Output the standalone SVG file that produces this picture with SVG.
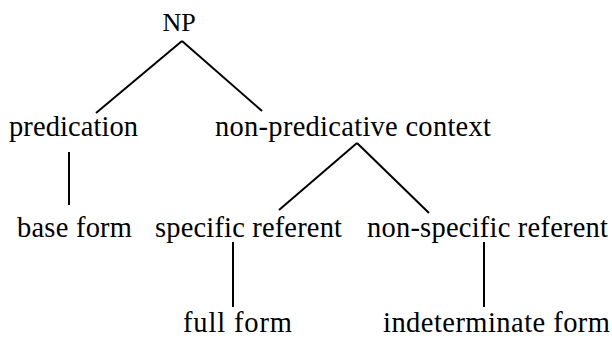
<svg xmlns="http://www.w3.org/2000/svg" width="612" height="339" viewBox="0 0 612 339">
<style>
text{font-family:"Liberation Serif","Times New Roman",serif;font-size:28.5px;fill:#000}
.e{stroke:#000;stroke-width:2;fill:none;stroke-linecap:butt}
</style>
<rect width="612" height="339" fill="#fff"/>
<g id="connectors">
<line class="e" x1="182" y1="41" x2="96" y2="113"/>
<line class="e" x1="182" y1="41" x2="262" y2="111"/>
<line class="e" x1="69" y1="152" x2="69" y2="205"/>
<line class="e" x1="357" y1="143" x2="279" y2="210"/>
<line class="e" x1="357" y1="143" x2="429" y2="213"/>
<line class="e" x1="233" y1="242" x2="233" y2="307"/>
<line class="e" x1="484" y1="242" x2="484" y2="307"/>
</g>
<g id="np"><text x="179" y="31" style="font-size:26px" text-anchor="middle">NP</text></g>
<g id="predication"><text x="9" y="136" textLength="129">predication</text></g>
<g id="nonpred"><text x="215" y="136" textLength="276">non-predicative context</text></g>
<g id="base"><text x="17" y="237" textLength="115">base form</text></g>
<g id="specific"><text x="155" y="237" textLength="187">specific referent</text></g>
<g id="nonspecific"><text x="367" y="237" textLength="241">non-specific referent</text></g>
<g id="full"><text x="183" y="332" textLength="109">full form</text></g>
<g id="indet"><text x="383" y="332" textLength="227">indeterminate form</text></g>
</svg>
